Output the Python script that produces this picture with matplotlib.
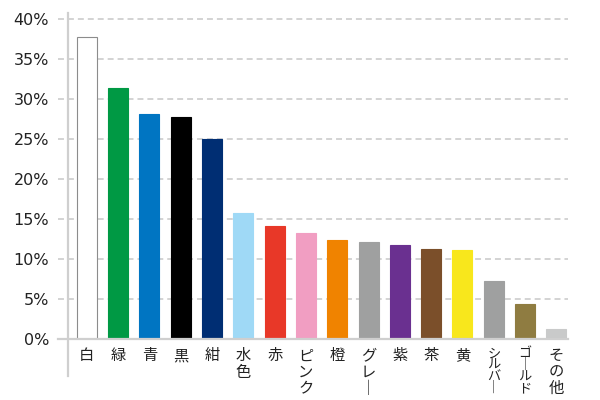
import matplotlib.pyplot as plt

# data
colors_jp = ["白", "緑", "青", "黒", "紺", "水色", "赤", "ピンク", "橙", "グレー",
             "紫", "茶", "黄", "シルバー", "ゴールド", "その他"]
shares = [37.7, 31.4, 28.1, 27.8, 25.0, 15.8, 14.1, 13.2, 12.4, 12.1,
          11.8, 11.2, 11.1, 7.3, 4.4, 1.2]
bar_colors = ["#ffffff", "#009944", "#0075c2", "#000000", "#002e73", "#9fd9f6",
              "#e83828", "#f19ec2", "#f08300", "#9fa0a0", "#6a3090", "#7b4f2a",
              "#f8e71c", "#9fa0a0", "#8f7c41", "#c9caca"]
y_ticks = [0, 5, 10, 15, 20, 25, 30, 35, 40]
small_labels = ["シルバー", "ゴールド"]

def vertical(s):
    # stack characters top to bottom, long vowel mark turned upright
    return "\n".join("｜" if c == "ー" else c for c in s)

fig = plt.figure(figsize=(6, 4), dpi=100)
ax = fig.add_axes([0.113, 0.1525, 0.834, 0.8])

xs = list(range(len(shares)))
edges = ["#8c8c8c" if c == "#ffffff" else c for c in bar_colors]
ax.bar(xs, shares, width=0.64, color=bar_colors, edgecolor=edges, linewidth=0.8, zorder=3)

ax.set_xlim(-0.61, 15.38)
ax.set_ylim(0, 40)

# dashed grid, reaching a little left of the axis line
trans = ax.get_yaxis_transform()
for y in y_ticks[1:]:
    ax.plot([-0.02, 1.0], [y, y], transform=trans, color="#c8c8c8", lw=1.1,
            linestyle=(0, (3.9, 2.6)), clip_on=False, zorder=1)
ax.plot([-0.02, 1.0], [0, 0], transform=trans, color="#cfcfcf", lw=1.6,
        clip_on=False, zorder=4)
# left axis line runs down past the labels
ax.plot([0, 0], [-4.6, 40.75], transform=trans, color="#cfcfcf", lw=1.6,
        clip_on=False, zorder=4)

for s in ax.spines.values():
    s.set_visible(False)

ax.set_yticks(y_ticks)
ax.set_yticklabels([f"{v}%" for v in y_ticks], family="DejaVu Sans",
                   fontsize=11.5, color="#222222")
ax.tick_params(axis="y", length=0, pad=13.5)

ax.set_xticks(xs)
ax.set_xticklabels([vertical(c) for c in colors_jp],
                   family=["Noto Sans CJK JP", "DejaVu Sans"], fontsize=11,
                   linespacing=0.95, color="#222222")
ax.tick_params(axis="x", length=0, pad=6)
for lab, name in zip(ax.get_xticklabels(), colors_jp):
    if name in small_labels:
        lab.set_fontsize(9.5)
        lab.set_linespacing(0.85)

fig.savefig("out.png", dpi=100, facecolor="white")
